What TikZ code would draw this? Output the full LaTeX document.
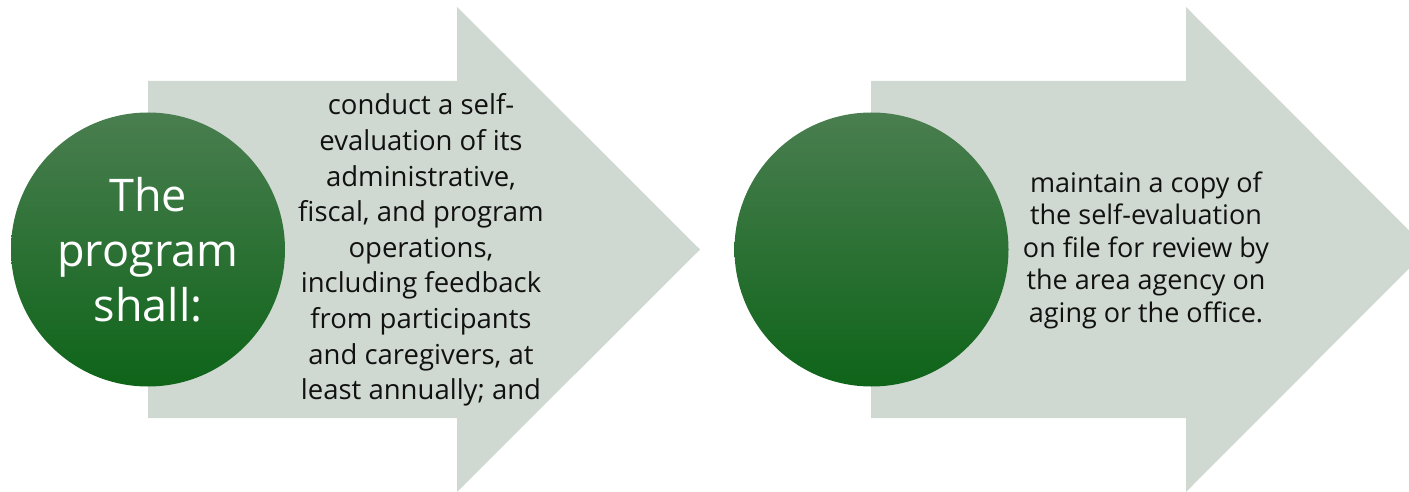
\documentclass[tikz,border=0pt]{standalone}
\usepackage{fontspec}
\setmainfont{Open Sans}
\definecolor{arrowfill}{HTML}{D0D9D1}
\definecolor{gtop}{HTML}{4A7E50}
\definecolor{gmid}{HTML}{1B6F25}
\definecolor{gbot}{HTML}{0E6419}
\definecolor{txt}{HTML}{111111}
\begin{document}
\begin{tikzpicture}[x=1pt,y=-1pt,
  bigarrow/.style={fill=arrowfill,draw=none},
  disc/.style={circle,draw=none,minimum size=274pt,inner sep=0pt,
    top color=gtop,middle color=gmid,bottom color=gbot,
    text=white,align=center,font=\fontsize{45}{55}\selectfont},
  body/.style={align=center,text=txt,inner sep=0pt}]
\useasboundingbox (0,0) rectangle (1409,492);
\clip (0,0) rectangle (1409,492);
% arrows
\fill[bigarrow] (148,81) -- (457,81) -- (457,7) -- (700,249.5) -- (457,492) -- (457,418) -- (148,418) -- cycle;
\fill[bigarrow] (871,81) -- (1186,81) -- (1186,7) -- (1428,249.5) -- (1186,492) -- (1186,418) -- (871,418) -- cycle;
% circles
\node[disc] (c1) at (148,249.5) {The\\program\\shall:};
\node[disc] (c2) at (871.5,249.5) {};
% texts
\node[body,font=\fontsize{27.5}{35.6}\selectfont] (t1) at (421,250) {conduct a self-\\evaluation of its\\administrative,\\fiscal, and program\\operations,\\including feedback\\from participants\\and caregivers, at\\least annually; and};
\node[body,font=\fontsize{27}{32.5}\selectfont] (t2) at (1146,250) {maintain a copy of\\the self-evaluation\\on file for review by\\the area agency on\\aging or the office.};
\end{tikzpicture}
\end{document}
